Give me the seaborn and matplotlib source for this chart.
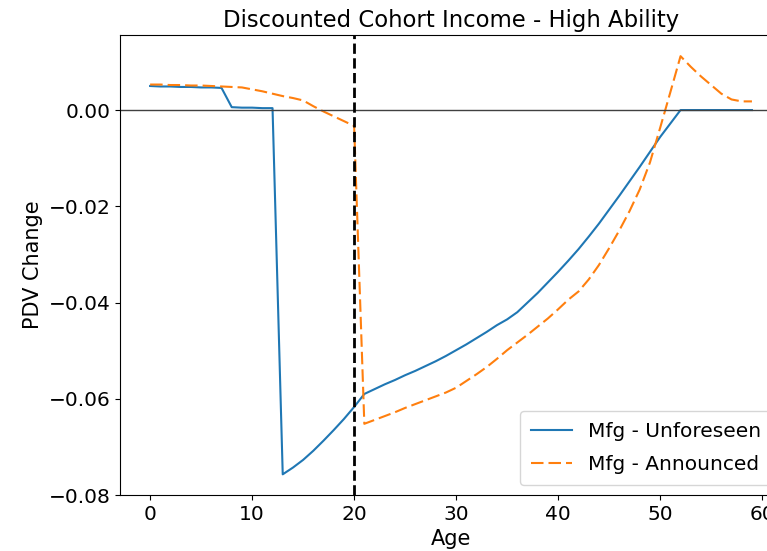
import numpy as np
import pandas as pd
import matplotlib
matplotlib.use("Agg")
import matplotlib.pyplot as plt
import seaborn as sns

ages = list(range(60))
unforeseen = [0.0050, 0.0049, 0.0049, 0.0048, 0.0048, 0.0047, 0.0047, 0.0046,
              0.0006, 0.0005, 0.0005, 0.0004, 0.0004,
              -0.0757, -0.0743, -0.0727, -0.0708, -0.0687, -0.0665, -0.0642, -0.0617,
              -0.0590, -0.0580, -0.0570, -0.0561, -0.0551, -0.0542, -0.0532, -0.0522,
              -0.0511, -0.0499, -0.0487, -0.0474, -0.0461, -0.0447, -0.0435, -0.0420,
              -0.0400, -0.0380, -0.0358, -0.0336, -0.0313, -0.0289, -0.0263, -0.0236,
              -0.0207, -0.0178, -0.0148, -0.0118, -0.0087, -0.0056, -0.0028,
              0.0, 0.0, 0.0, 0.0, 0.0, 0.0, 0.0, 0.0]
announced = [0.0053, 0.0053, 0.0052, 0.0052, 0.0051, 0.0051, 0.0050, 0.0049,
             0.0048, 0.0047, 0.0043, 0.0039, 0.0034, 0.0029, 0.0025, 0.0020,
             0.0008, -0.0003, -0.0013, -0.0023, -0.0033,
             -0.0652, -0.0644, -0.0636, -0.0628, -0.0619, -0.0611, -0.0603, -0.0595,
             -0.0587, -0.0577, -0.0563, -0.0549, -0.0534, -0.0517, -0.0499, -0.0483,
             -0.0467, -0.0450, -0.0433, -0.0414, -0.0394, -0.0377, -0.0352, -0.0322,
             -0.0287, -0.0250, -0.0210, -0.0165, -0.0109, -0.0037, 0.0037, 0.0112,
             0.0090, 0.0070, 0.0052, 0.0034, 0.0022, 0.0018, 0.0018]
series_names = ["Mfg - Unforeseen", "Mfg - Announced"]
announce_age = 20

df = pd.DataFrame({"Age": ages * 2,
                   "PDV": unforeseen + announced,
                   "Series": [series_names[0]] * 60 + [series_names[1]] * 60})

fig = plt.figure(figsize=(7.67, 5.51), dpi=100)
ax = fig.add_axes([0.1565, 0.1016, 1.0196 - 0.1565, 0.9365 - 0.1016])

sns.lineplot(data=df, x="Age", y="PDV", hue="Series", style="Series",
             palette=["#1f77b4", "#ff7f0e"], dashes=[(None, None), (6, 2.4)],
             linewidth=1.5, ax=ax, legend=True)
ax.axhline(0, color="#404040", linewidth=1.0)
ax.axvline(announce_age, color="black", linestyle="--", linewidth=2)

ax.set_title("Discounted Cohort Income - High Ability", fontsize=16.4)
ax.set_xlabel("Age", fontsize=15)
ax.set_ylabel("PDV Change", fontsize=15)
ax.tick_params(labelsize=14.5)
ax.set_xticks([0, 10, 20, 30, 40, 50, 60])
ax.set_yticks([-0.08, -0.06, -0.04, -0.02, 0.0])
ax.set_xlim(-2.95, 61.95)
ax.set_ylim(-0.0800, 0.0156)

leg = ax.legend(loc="lower right", fontsize=14.5, borderpad=0.55,
                labelspacing=0.7, borderaxespad=0.5)
leg.set_title(None)

fig.savefig("out.png", dpi=100)
